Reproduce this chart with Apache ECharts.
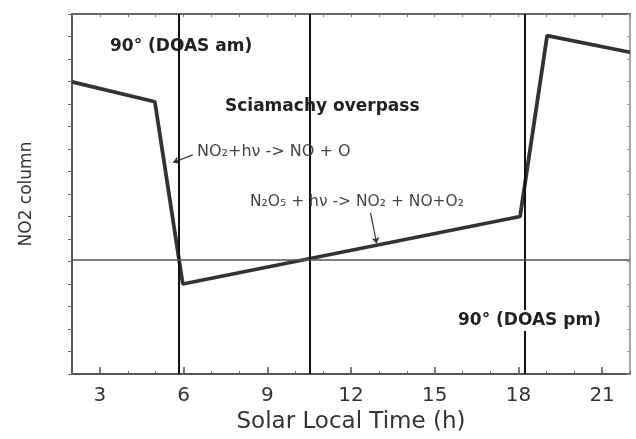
<!DOCTYPE html>
<html>
<head>
<meta charset="utf-8">
<script src="https://cdn.jsdelivr.net/npm/echarts@6/dist/echarts.min.js"></script>
<style>
html,body{margin:0;padding:0;background:#fff;}
#chart{width:636px;height:439px;}
</style>
</head>
<body>
<div id="chart"></div>
<script>
// ---- data ----
const hours = [2, 4.97, 5.97, 18.06, 19.03, 22];
const no2Column = [6.49, 6.05, 2.0, 3.5, 7.52, 7.15];
const verticalLines = [5.83, 10.53, 18.24];
const referenceLevel = 2.54;
const xTickLabels = [3, 6, 9, 12, 15, 18, 21];
const arrow1 = [[6.33, 4.87], [5.62, 4.70]];
const arrow2 = [[12.70, 3.58], [12.92, 2.90]];

const FONT = 'DejaVu Sans';
const chart = echarts.init(document.getElementById('chart'));

const commonX = { type: 'value', min: 2, max: 22, interval: 1, splitLine: { show: false } };
const commonY = { type: 'value', min: 0, max: 8, interval: 0.5, splitLine: { show: false } };

chart.setOption({
  animation: false,
  backgroundColor: '#fff',
  grid: { left: 72, right: 6, top: 14, bottom: 59 },
  xAxis: [
    Object.assign({}, commonX, {
      position: 'bottom',
      name: 'Solar Local Time (h)', nameLocation: 'middle', nameGap: 37,
      nameTextStyle: { fontFamily: FONT, fontSize: 23, color: '#333' },
      axisLine: { show: true, lineStyle: { color: '#555', width: 2 } },
      axisTick: { show: true, inside: true, length: 7, customValues: xTickLabels, lineStyle: { color: '#555', width: 1.5 } },
      axisLabel: { show: true, customValues: xTickLabels, margin: 12, fontFamily: FONT, fontSize: 20, color: '#333' }
    }),
    Object.assign({}, commonX, {
      position: 'bottom',
      axisLine: { show: false },
      axisTick: { show: true, inside: true, length: 3, lineStyle: { color: '#666', width: 1 } },
      axisLabel: { show: false }
    }),
    Object.assign({}, commonX, {
      position: 'top',
      axisLine: { show: true, lineStyle: { color: '#666', width: 2 } },
      axisTick: { show: true, inside: true, length: 3, lineStyle: { color: '#777', width: 1 } },
      axisLabel: { show: false }
    })
  ],
  yAxis: [
    Object.assign({}, commonY, {
      position: 'left',
      name: 'NO2 column', nameLocation: 'middle', nameGap: 37,
      nameTextStyle: { fontFamily: FONT, fontSize: 17, color: '#333' },
      axisLine: { show: true, lineStyle: { color: '#555', width: 2 } },
      axisTick: { show: true, inside: false, length: 4, lineStyle: { color: '#666', width: 1 } },
      axisLabel: { show: false }
    }),
    Object.assign({}, commonY, {
      position: 'right',
      axisLine: { show: true, lineStyle: { color: '#888', width: 1.5 } },
      axisTick: { show: true, inside: true, length: 3, lineStyle: { color: '#999', width: 1 } },
      axisLabel: { show: false }
    })
  ],
  series: [
    {
      type: 'line',
      xAxisIndex: 0, yAxisIndex: 0,
      data: hours.map((h, i) => [h, no2Column[i]]),
      symbol: 'none',
      lineStyle: { color: '#333', width: 3.8 },
      z: 3,
      markLine: {
        silent: true,
        symbol: 'none',
        label: { show: false },
        data: verticalLines.map(v => ({ xAxis: v, lineStyle: { color: '#111', width: 2, type: 'solid' } }))
          .concat([{ yAxis: referenceLevel, lineStyle: { color: '#555', width: 1.5, type: 'solid' } }])
      }
    },
    {
      type: 'lines',
      coordinateSystem: 'cartesian2d',
      xAxisIndex: 0, yAxisIndex: 0,
      symbol: ['none', 'arrow'],
      symbolSize: 6,
      lineStyle: { color: '#333', width: 1.2, opacity: 1 },
      data: [{ coords: arrow1 }, { coords: arrow2 }],
      z: 4
    }
  ],
  graphic: [
    { type: 'text', z: 100, left: 110, top: 38, style: { text: '90° (DOAS am)', font: 'bold 17px "DejaVu Sans"', fill: '#222' } },
    { type: 'text', z: 100, left: 225, top: 98, style: { text: 'Sciamachy overpass', font: 'bold 17px "DejaVu Sans"', fill: '#222' } },
    { type: 'text', z: 100, left: 197, top: 144, style: { text: 'NO₂+hν -> NO + O', font: '16px "DejaVu Sans"', fill: '#444' } },
    { type: 'text', z: 100, left: 250, top: 194, style: { text: 'N₂O₅ + hν -> NO₂ + NO+O₂', font: '15.5px "DejaVu Sans"', fill: '#444' } },
    { type: 'text', z: 100, left: 456, top: 310, style: { text: '90° (DOAS pm)', font: 'bold 17px "DejaVu Sans"', fill: '#222', backgroundColor: '#fff', padding: [2, 2, 2, 2] } }
  ]
});
</script>
</body>
</html>
